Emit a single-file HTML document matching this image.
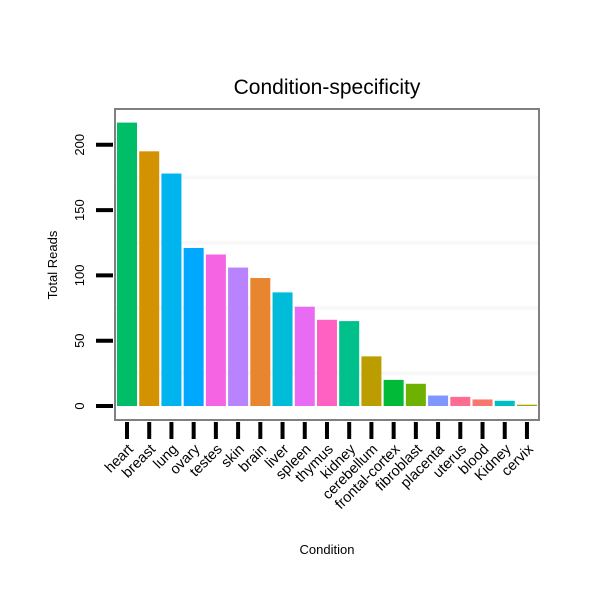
<!DOCTYPE html>
<html><head><meta charset="utf-8"><style>
body{margin:0;background:#fff}
svg text{font-family:"Liberation Sans",sans-serif;fill:#000}
</style></head><body>
<svg id="chart" width="600" height="600">
<rect width="600" height="600" fill="#fff"/>
<text x="327" y="94" font-size="21" text-anchor="middle">Condition-specificity</text>
<g id="grid"></g>
<g id="bars"></g>
<rect x="115" y="109" width="424" height="311" fill="none" stroke="#808080" stroke-width="2"/>
<g id="yaxis"></g>
<g id="xaxis"></g>
<text transform="translate(57,265) rotate(-90)" font-size="13" text-anchor="middle">Total Reads</text>
<text x="327" y="554" font-size="13" text-anchor="middle">Condition</text>
</svg>
<script>
const categories=["heart","breast","lung","ovary","testes","skin","brain","liver","spleen","thymus","kidney","cerebellum","frontal-cortex","fibroblast","placenta","uterus","blood","Kidney","cervix"];
const values=[217,195,178,121,116,106,98,87,76,66,65,38,20,17,8,7,5,4,1];
const colors=["#00BE67","#D39200","#00B4EF","#00A9FF","#F564E3","#B983FF","#E8852F","#00BCD8","#E76BF3","#FF61C3","#00C08B","#BB9D00","#00BA38","#6FB100","#7F96FF","#FF6C91","#F8766D","#00BFC4","#A3A500"];
const yTicks=[0,50,100,150,200];
const minorTicks=[25,75,125,175];
const NS="http://www.w3.org/2000/svg";
const y0=406, pxPerUnit=1.306;
const yScale=v=>y0-v*pxPerUnit;
const xStart=127, step=22.22, bw=20;
const xScale=i=>xStart+i*step;
function mk(tag,attrs,parent){const e=document.createElementNS(NS,tag);for(const k in attrs)e.setAttribute(k,attrs[k]);parent.appendChild(e);return e;}
const grid=document.getElementById('grid'),bars=document.getElementById('bars'),ya=document.getElementById('yaxis'),xa=document.getElementById('xaxis');
minorTicks.forEach(t=>{const l=mk('line',{x1:116,x2:538,y1:yScale(t),y2:yScale(t),stroke:'#f8f8f8','stroke-width':4},grid);

});
values.forEach((v,i)=>{const r=mk('rect',{x:xScale(i)-bw/2,y:yScale(v),width:bw,height:v*pxPerUnit,fill:colors[i]},bars);

});
yTicks.forEach(t=>{const y=yScale(t);
const l=mk('line',{x1:96,x2:113,y1:y,y2:y,stroke:'#000','stroke-width':4},ya);


const tx=mk('text',{transform:`translate(84,${y}) rotate(-90)`,'font-size':13,'text-anchor':'middle'},ya);
tx.textContent=t;

});
categories.forEach((c,i)=>{const x=xScale(i);
const l=mk('line',{x1:x,x2:x,y1:422,y2:439,stroke:'#000','stroke-width':4},xa);


const tx=mk('text',{transform:`translate(${x+7},${450}) rotate(-45)`,'font-size':14.5,'text-anchor':'end'},xa);
tx.textContent=c;

});
</script>
</body></html>
